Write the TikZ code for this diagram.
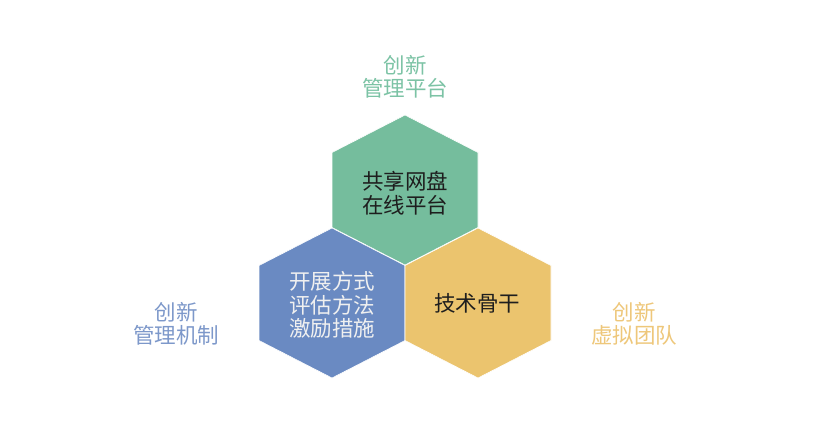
\documentclass[tikz,border=0pt]{standalone}
\usepackage{fontspec}
\setmainfont{Noto Sans CJK SC}
\usetikzlibrary{positioning}
\definecolor{hexgreen}{HTML}{75BD9D}
\definecolor{hexblue}{HTML}{6A8AC2}
\definecolor{hexyellow}{HTML}{EBC46E}
\definecolor{labgreen}{HTML}{7CC3A5}
\definecolor{labblue}{HTML}{7D98CA}
\definecolor{labyellow}{HTML}{EEC77A}
\definecolor{darktext}{HTML}{1E1E1E}
\tikzset{
  hexfill/.style={fill=#1, draw=white, line width=0.6pt},
  hextext/.style={align=center, font=\fontsize{21.5}{23.5}\selectfont, text=#1, inner sep=0pt},
  sidelabel/.style={align=center, font=\fontsize{21.5}{23.5}\selectfont, text=#1, inner sep=0pt}
}
\begin{document}
\begin{tikzpicture}[x=1pt,y=-1pt]
\useasboundingbox (0,0) rectangle (832,425);
\fill[white] (0,0) rectangle (832,425);
\foreach \cx/\cy/\col in {405/190/hexgreen, 332/303/hexblue, 478/303/hexyellow}{
  \path[hexfill=\col, shift={(\cx,\cy)}] (0,-75) -- (73,-37.5) -- (73,37.5) -- (0,75) -- (-73,37.5) -- (-73,-37.5) -- cycle;
}
\node[hextext=darktext] (green) at (405,193) {共享网盘\\在线平台};
\node[hextext=white!94!black] (blue) at (332,305) {开展方式\\评估方法\\激励措施};
\node[hextext=darktext] (yellow) at (477,303) {技术骨干};
\node[sidelabel=labgreen] (ltop) at (405,77) {创新\\管理平台};
\node[sidelabel=labblue] (lleft) at (176,324) {创新\\管理机制};
\node[sidelabel=labyellow] (lright) at (634,324) {创新\\虚拟团队};
\end{tikzpicture}
\end{document}
